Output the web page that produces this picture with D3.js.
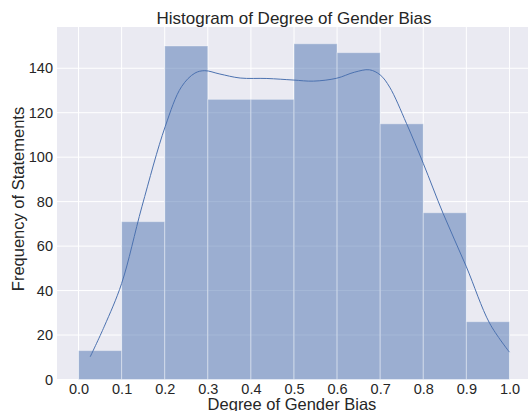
<!DOCTYPE html>
<html lang="en">
<head>
<meta charset="UTF-8">
<title>Histogram of Degree of Gender Bias</title>
<script src="https://d3js.org/d3.v7.min.js"></script>
<style>
  body { margin: 0; background: #fff; }
  svg { display: block; font-family: "Liberation Sans", Arial, sans-serif; }
</style>
</head>
<body>
<div id="chart"></div>
<script>
// bin edges and counts (10 bins of width 0.1)
var binEdges = [0.0, 0.1, 0.2, 0.3, 0.4, 0.5, 0.6, 0.7, 0.8, 0.9, 1.0];
var counts = [13, 71, 150, 126, 126, 151, 147, 115, 75, 26];

// kde curve (count scale)
var kdeX = [0.027, 0.06, 0.100, 0.147, 0.201, 0.239, 0.27, 0.293, 0.328, 0.375, 0.437, 0.498, 0.545, 0.599, 0.64, 0.675, 0.70, 0.722, 0.761, 0.80, 0.846, 0.90, 0.954, 1.0];
var kdeY = [10.2, 24, 43.2, 77.7, 113.7, 131.7, 137.8, 138.9, 137.4, 135.6, 135.4, 134.7, 134.2, 135.5, 138.2, 139.3, 137, 131.5, 115.2, 97.2, 74.7, 50.7, 25.3, 12.3];

var xTicks = [0.0, 0.1, 0.2, 0.3, 0.4, 0.5, 0.6, 0.7, 0.8, 0.9, 1.0];
var yTicks = [0, 20, 40, 60, 80, 100, 120, 140];

var W = 528, H = 411;
var mLeft = 57, mRight = 531, mTop = 27, mBottom = 379.5;

var svg = d3.select("#chart").append("svg")
    .attr("width", W)
    .attr("height", H);

var x = d3.scaleLinear().domain([-0.05, 1.05]).range([mLeft, mRight]);
var y = d3.scaleLinear().domain([0, d3.max(counts) * 1.05]).range([mBottom, mTop]);

// panel background
svg.append("rect")
    .attr("x", mLeft).attr("y", mTop)
    .attr("width", mRight - mLeft).attr("height", mBottom - mTop)
    .attr("fill", "#EAEAF2");

// grid
svg.append("g").selectAll("line").data(xTicks).join("line")
    .attr("x1", d => x(d)).attr("x2", d => x(d))
    .attr("y1", mTop).attr("y2", mBottom)
    .attr("stroke", "#fff").attr("stroke-width", 1);
svg.append("g").selectAll("line").data(yTicks).join("line")
    .attr("x1", mLeft).attr("x2", mRight)
    .attr("y1", d => y(d)).attr("y2", d => y(d))
    .attr("stroke", "#fff").attr("stroke-width", 1);

// bars
var bins = counts.map((c, i) => ({x0: binEdges[i], x1: binEdges[i + 1], c: c}));
svg.append("g").selectAll("rect").data(bins).join("rect")
    .attr("x", d => x(d.x0))
    .attr("y", d => y(d.c))
    .attr("width", d => x(d.x1) - x(d.x0))
    .attr("height", d => y(0) - y(d.c))
    .attr("fill", "#4C72B0")
    .attr("fill-opacity", 0.5)
    .attr("stroke", "rgba(255,255,255,0.35)")
    .attr("stroke-width", 1);

// kde
var line = d3.line()
    .x(d => x(d[0]))
    .y(d => y(d[1]))
    .curve(d3.curveCatmullRom.alpha(0.5));
svg.append("path")
    .datum(kdeX.map((v, i) => [v, kdeY[i]]))
    .attr("d", line)
    .attr("fill", "none")
    .attr("stroke", "#4C72B0")
    .attr("stroke-width", 1);

// axes (no tick lines, seaborn darkgrid style)
var xAxis = d3.axisBottom(x).tickValues(xTicks).tickFormat(d3.format(".1f")).tickSize(0).tickPadding(4);
var gx = svg.append("g").attr("transform", "translate(0," + mBottom + ")").call(xAxis);
gx.select(".domain").remove();
gx.selectAll("text").attr("fill", "#262626").style("font-size", "14.5px").style("font-family", "Liberation Sans, Arial, sans-serif");

var yAxis = d3.axisLeft(y).tickValues(yTicks).tickSize(0).tickPadding(4);
var gy = svg.append("g").attr("transform", "translate(" + mLeft + ",0)").call(yAxis);
gy.select(".domain").remove();
gy.selectAll("text").attr("fill", "#262626").style("font-size", "14.5px").style("font-family", "Liberation Sans, Arial, sans-serif");

// labels
svg.append("text")
    .attr("x", 294).attr("y", 24)
    .attr("text-anchor", "middle")
    .attr("fill", "#262626")
    .style("font-size", "17px")
    .text("Histogram of Degree of Gender Bias");

svg.append("text")
    .attr("x", 292).attr("y", 410)
    .attr("text-anchor", "middle")
    .attr("fill", "#262626")
    .style("font-size", "16.5px")
    .text("Degree of Gender Bias");

svg.append("text")
    .attr("transform", "translate(24,199) rotate(-90)")
    .attr("text-anchor", "middle")
    .attr("fill", "#262626")
    .style("font-size", "16.5px")
    .text("Frequency of Statements");
</script>
</body>
</html>
